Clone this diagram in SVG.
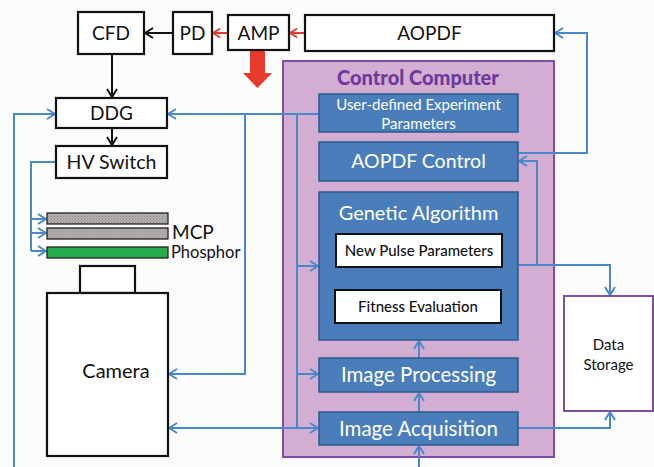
<svg xmlns="http://www.w3.org/2000/svg" width="654" height="467" viewBox="0 0 654 467">
  <style>
    text { font-family: Lato, "Open Sans", "Liberation Sans", sans-serif; }
    .box { fill: #ffffff; stroke: #111111; stroke-width: 2.2; }
    .blk { fill: #4a7ebb; stroke: #2c5a8c; stroke-width: 1.5; }
    .inner { fill: #ffffff; stroke: #111111; stroke-width: 2; }
    .lbl { fill: #111111; text-anchor: middle; }
    .wlbl { fill: #ffffff; text-anchor: middle; }
    .wire { fill: none; stroke: #4a88cc; stroke-width: 2; }
    .wire-end { fill: none; stroke: #4a88cc; stroke-width: 2; marker-end: url(#blueHead); }
    .wire-both { fill: none; stroke: #4a88cc; stroke-width: 2; marker-end: url(#blueHead); marker-start: url(#blueHeadStart); }
    .red { fill: none; stroke: #e8392c; stroke-width: 2; marker-end: url(#redHead); }
    .black { fill: none; stroke: #111111; stroke-width: 2; marker-end: url(#blackHead); }
  </style>
  <defs>
    <marker id="blueHead" viewBox="0 0 10 12" refX="9" refY="6" markerWidth="10" markerHeight="12" markerUnits="userSpaceOnUse" orient="auto">
      <path d="M1,1 L9,6 L1,11" fill="none" stroke="#4a88cc" stroke-width="2"/>
    </marker>
    <marker id="blueHeadStart" viewBox="0 0 10 12" refX="9" refY="6" markerWidth="10" markerHeight="12" markerUnits="userSpaceOnUse" orient="auto-start-reverse">
      <path d="M1,1 L9,6 L1,11" fill="none" stroke="#4a88cc" stroke-width="2"/>
    </marker>
    <marker id="redHead" viewBox="0 0 10 12" refX="9" refY="6" markerWidth="9" markerHeight="11" markerUnits="userSpaceOnUse" orient="auto">
      <path d="M1,1 L9,6 L1,11" fill="none" stroke="#e8392c" stroke-width="2"/>
    </marker>
    <marker id="blackHead" viewBox="0 0 10 12" refX="9" refY="6" markerWidth="10" markerHeight="12" markerUnits="userSpaceOnUse" orient="auto">
      <path d="M1,1 L9,6 L1,11" fill="none" stroke="#111111" stroke-width="2"/>
    </marker>
    <pattern id="mesh" width="3" height="3" patternUnits="userSpaceOnUse">
      <rect width="3" height="3" fill="#b3b0ad"/>
      <rect width="1" height="1" fill="#8e8b88"/>
      <rect x="1.5" y="1.5" width="1" height="1" fill="#8e8b88"/>
    </pattern>
  </defs>

  <rect width="654" height="467" fill="#fcfcfd"/>

  <!-- Control computer enclosure -->
  <g id="control-computer">
    <rect x="283" y="61" width="271" height="396" fill="#d4aed2" stroke="#7b4fa6" stroke-width="2"/>
    <text x="418" y="85" text-anchor="middle" font-size="20" font-weight="900" fill="#6b3a9c">Control Computer</text>
  </g>

  <!-- Connectors -->
  <g id="connectors">
    <!-- pulse chain -->
    <path class="red" d="M305,33 H290"/>
    <path class="red" d="M228,33 H213"/>
    <path class="black" d="M173,33 H145"/>
    <path class="black" d="M112,54 V97"/>
    <path class="black" d="M112,128 V145"/>
    <polygon points="250,50 265,50 265,73 272,73 257.5,88 243,73 250,73" fill="#e8392c"/>

    <!-- trigger / timing lines -->
    <path class="wire-end" d="M14,467 V114 H55"/>
    <path class="wire-end" d="M319,114 H168"/>
    <path class="wire-end" d="M245,114 V374 H169"/>
    <path class="wire" d="M297,114 V428"/>
    <path class="wire-end" d="M297,266 H318"/>
    <path class="wire-end" d="M297,374 H318"/>
    <path class="wire-both" d="M169,428 H318"/>

    <!-- high voltage distribution -->
    <path class="wire" d="M56,162 H31 V251"/>
    <path class="wire-end" d="M31,219 H46"/>
    <path class="wire-end" d="M31,233 H46"/>
    <path class="wire-end" d="M31,251 H46"/>

    <!-- AOPDF feedback -->
    <path class="wire-end" d="M518,153 H587 V33 H555"/>
    <path class="wire-end" d="M537,265 V161 H519"/>
    <path class="wire-end" d="M518,265 H610 V295"/>
    <path class="wire-end" d="M518,428 H610 V412"/>

    <!-- processing pipeline -->
    <path class="wire-end" d="M419,412 V393"/>
    <path class="wire-end" d="M419,358 V341"/>
    <path class="wire-end" d="M419,467 V446"/>
  </g>

  <!-- Laser / trigger chain -->
  <g id="cfd">
    <rect class="box" x="78" y="12" width="66" height="42"/>
    <text class="lbl" x="111" y="40" font-size="19">CFD</text>
  </g>
  <g id="pd">
    <rect class="box" x="173" y="12" width="39" height="42"/>
    <text class="lbl" x="192.5" y="40" font-size="19">PD</text>
  </g>
  <g id="amp">
    <rect class="box" x="228" y="15" width="61" height="35"/>
    <text class="lbl" x="258.5" y="40" font-size="19">AMP</text>
  </g>
  <g id="aopdf">
    <rect class="box" x="305" y="15" width="249" height="36"/>
    <text class="lbl" x="429.5" y="40" font-size="19">AOPDF</text>
  </g>
  <g id="ddg">
    <rect class="box" x="56" y="98" width="111" height="30"/>
    <text class="lbl" x="111.5" y="120" font-size="19">DDG</text>
  </g>
  <g id="hv-switch">
    <rect class="box" x="56" y="146" width="111" height="32"/>
    <text class="lbl" x="111.5" y="169" font-size="19.5">HV Switch</text>
  </g>

  <!-- Detector stack -->
  <g id="mcp">
    <rect x="47" y="213" width="121" height="11" fill="url(#mesh)" stroke="#222222" stroke-width="1.3"/>
    <rect x="47" y="228" width="121" height="11" fill="url(#mesh)" stroke="#222222" stroke-width="1.3"/>
    <text x="172" y="239" font-size="19" fill="#111111">MCP</text>
  </g>
  <g id="phosphor">
    <rect x="47" y="247" width="121" height="11" fill="#22ad4a" stroke="#222222" stroke-width="1.3"/>
    <text x="171" y="258" font-size="16.5" fill="#111111">Phosphor</text>
  </g>
  <g id="camera">
    <rect class="box" x="80" y="266" width="55" height="27"/>
    <rect class="box" x="47" y="293" width="121" height="163"/>
    <text class="lbl" x="116" y="378" font-size="20">Camera</text>
  </g>

  <!-- Software blocks -->
  <g id="user-parameters">
    <rect class="blk" x="319" y="94" width="199" height="38"/>
    <text class="wlbl" x="418.5" y="110" font-size="15">User-defined Experiment</text>
    <text class="wlbl" x="418.5" y="129" font-size="15">Parameters</text>
  </g>
  <g id="aopdf-control">
    <rect class="blk" x="319" y="142" width="199" height="39"/>
    <text class="wlbl" x="418.5" y="168" font-size="19.5">AOPDF Control</text>
  </g>
  <g id="genetic-algorithm">
    <rect class="blk" x="319" y="192" width="199" height="148"/>
    <text class="wlbl" x="418.5" y="220" font-size="20">Genetic Algorithm</text>
    <rect class="inner" x="336" y="234" width="166" height="33"/>
    <text class="lbl" x="419" y="256" font-size="15" font-weight="500">New Pulse Parameters</text>
    <rect class="inner" x="335" y="290" width="166" height="33"/>
    <text class="lbl" x="418" y="312" font-size="15" font-weight="500">Fitness Evaluation</text>
  </g>
  <g id="image-processing">
    <rect class="blk" x="319" y="358" width="199" height="34"/>
    <text class="wlbl" x="418.5" y="382" font-size="20.5">Image Processing</text>
  </g>
  <g id="image-acquisition">
    <rect class="blk" x="319" y="412" width="199" height="33"/>
    <text class="wlbl" x="418.5" y="436" font-size="20.5">Image Acquisition</text>
  </g>

  <g id="data-storage">
    <rect x="564" y="296" width="89" height="115" fill="#ffffff" stroke="#7b4fa6" stroke-width="2"/>
    <text class="lbl" x="608.5" y="350" font-size="15">Data</text>
    <text class="lbl" x="608.5" y="370" font-size="15">Storage</text>
  </g>
</svg>
